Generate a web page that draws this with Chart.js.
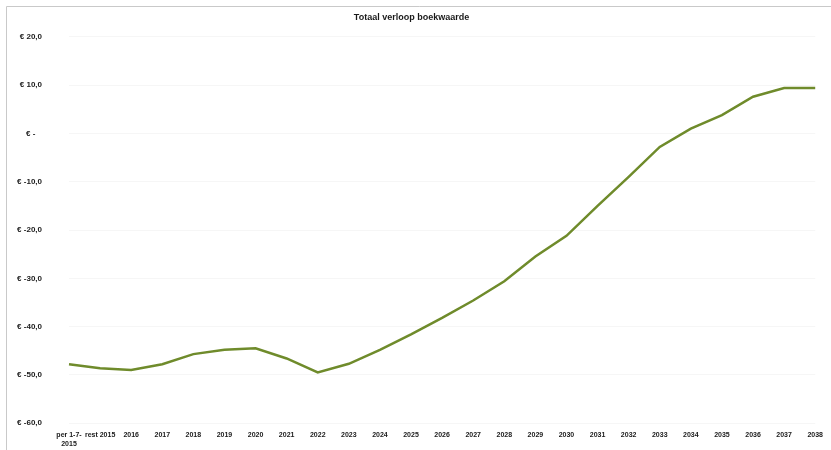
<!DOCTYPE html>
<html>
<head>
<meta charset="utf-8">
<title>Totaal verloop boekwaarde</title>
<script src="https://cdn.jsdelivr.net/npm/chart.js@4/dist/chart.umd.min.js"></script>
<style>
  html, body { margin: 0; padding: 0; background: #ffffff; overflow: hidden; }
  #wrap { position: relative; width: 831px; height: 450px; overflow: hidden; }
  #chart { position: absolute; left: 0; top: 0; }
</style>
</head>
<body>
<div id="wrap"><canvas id="chart" width="831" height="456"></canvas></div>
<script>
// Periods on the horizontal axis
const categories = [
  ['per 1-7-', '2015'], 'rest 2015', '2016', '2017', '2018', '2019', '2020',
  '2021', '2022', '2023', '2024', '2025', '2026', '2027', '2028', '2029',
  '2030', '2031', '2032', '2033', '2034', '2035', '2036', '2037', '2038'
];

// Book value per period (x € 1.000.000)
const bookValue = [
  -47.8, -48.6, -49.0, -47.8, -45.7, -44.8, -44.5,
  -46.6, -49.5, -47.7, -44.8, -41.6, -38.2, -34.6, -30.6, -25.5,
  -21.2, -15.0, -9.0, -2.8, 1.0, 3.8, 7.6, 9.4, 9.4
];

// Value axis range
const yMin = -60;
const yMax = 20;
const yStep = 10;

const FONT = "'Liberation Sans', Arial, sans-serif";

function euro(v) {
  if (v === 0) return '€ -   ';
  return '€ ' + v.toFixed(1).replace('.', ',');
}

// Thin chart-area frame along the top and left edge
const frame = {
  id: 'frame',
  afterDraw(chart) {
    const ctx = chart.ctx;
    ctx.save();
    ctx.strokeStyle = '#c9c9c9';
    ctx.lineWidth = 1;
    ctx.beginPath();
    ctx.moveTo(6.5, chart.height + 2);
    ctx.lineTo(6.5, 6.5);
    ctx.lineTo(chart.width + 2, 6.5);
    ctx.stroke();
    ctx.restore();
  }
};

new Chart(document.getElementById('chart'), {
  type: 'line',
  data: {
    labels: categories,
    datasets: [{
      label: 'Boekwaarde',
      data: bookValue,
      borderColor: '#6f8b2b',
      backgroundColor: '#6f8b2b',
      borderWidth: 2.5,
      pointRadius: 0,
      tension: 0,
      fill: false
    }]
  },
  options: {
    responsive: false,
    animation: false,
    layout: { padding: { left: 0, right: 8, top: 0, bottom: 0 } },
    plugins: {
      legend: { display: false },
      tooltip: { enabled: false },
      title: {
        display: true,
        text: 'Totaal verloop boekwaarde',
        color: '#1a1a1a',
        font: { family: FONT, size: 9, weight: 'bold' },
        padding: { top: 12, bottom: 14 }
      }
    },
    scales: {
      x: {
        offset: false,
        grid: { display: false, drawTicks: false },
        border: { display: false },
        ticks: {
          color: '#1a1a1a',
          font: { family: FONT, size: 7, weight: 'bold' },
          padding: 8,
          maxRotation: 0,
          autoSkip: false
        }
      },
      y: {
        min: yMin,
        max: yMax,
        grid: { color: '#f6f6f6', drawTicks: false },
        border: { display: false },
        ticks: {
          stepSize: yStep,
          color: '#1a1a1a',
          font: { family: FONT, size: 8, weight: 'bold' },
          padding: 27,
          callback: v => euro(v)
        },
        afterFit(scale) { scale.width = 69; }
      }
    }
  },
  plugins: [frame]
});
</script>
</body>
</html>
